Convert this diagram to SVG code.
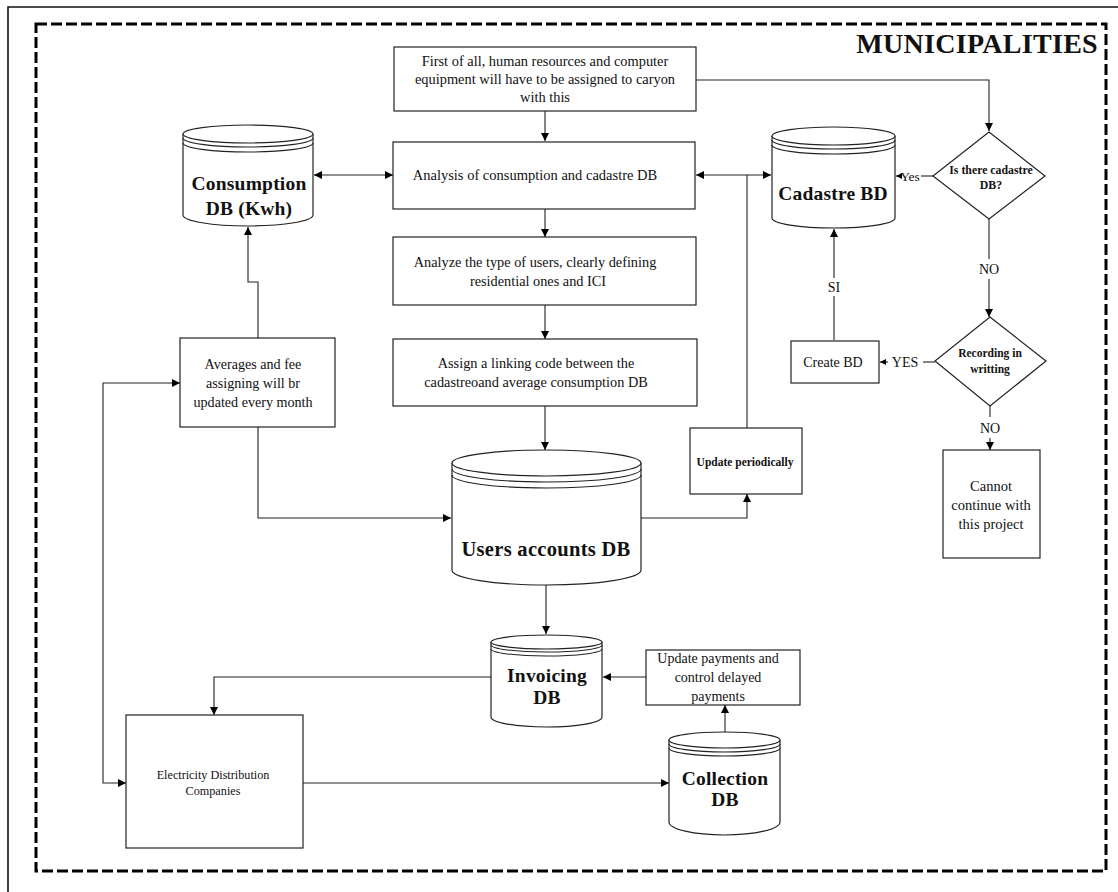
<svg xmlns="http://www.w3.org/2000/svg" width="1118" height="892" viewBox="0 0 1118 892">
<defs>
<marker id="ah" viewBox="0 0 10 10" refX="10" refY="5" markerWidth="9" markerHeight="8" markerUnits="userSpaceOnUse" orient="auto-start-reverse">
<path d="M0,0 L10,5 L0,10 Z" fill="#000"/>
</marker>
<marker id="ahs" viewBox="0 0 10 10" refX="10" refY="5" markerWidth="6" markerHeight="6" markerUnits="userSpaceOnUse" orient="auto-start-reverse">
<path d="M0,0 L10,5 L0,10 Z" fill="#000"/>
</marker>
<style>
.box{fill:#fff;stroke:#222;stroke-width:1.2}
.cyl{fill:#fff;stroke:#222;stroke-width:1.2}
.ln{fill:none;stroke:#222;stroke-width:1.1}
.cn{fill:none;stroke:#222;stroke-width:1.1}
.t{font-family:"Liberation Serif","Times New Roman",serif;fill:#111;text-anchor:middle}
.b{font-weight:bold}
.big{font-family:"Liberation Serif","Times New Roman",serif;font-weight:bold;fill:#111;text-anchor:middle;font-size:19.5px;letter-spacing:0.2px}
</style>
</defs>
<rect width="1118" height="892" fill="#fff"/>
<g id="frame">
<path d="M8,892 L8,7 L1118,7" fill="none" stroke="#111" stroke-width="1.6"/>
<rect x="36" y="24" width="1070" height="847" fill="none" stroke="#000" stroke-width="3" stroke-dasharray="11,4"/>
<text x="1098" y="53" class="t b" style="text-anchor:end;font-size:28px;letter-spacing:0.3px">MUNICIPALITIES</text>
</g>
<g id="connectors">
<path class="cn" d="M696,80 L989,80 L989,131" marker-end="url(#ah)"/>
<path class="cn" d="M545,111 L545,141" marker-end="url(#ah)"/>
<path class="cn" d="M314,175 L393,175" marker-start="url(#ah)" marker-end="url(#ah)"/>
<path class="cn" d="M545,209 L545,237" marker-end="url(#ah)"/>
<path class="cn" d="M545,305 L545,339" marker-end="url(#ah)"/>
<path class="cn" d="M545,406 L545,450" marker-end="url(#ah)"/>
<path class="cn" d="M696,175 L771,175" marker-start="url(#ah)" marker-end="url(#ah)"/>
<path class="cn" d="M747,428 L747,175"/>
<path class="cn" d="M641,518 L747,518 L747,494" marker-end="url(#ah)"/>
<path class="cn" d="M258,338 L258,282 L248,282 L248,227" marker-end="url(#ah)"/>
<path class="cn" d="M258,427 L258,518 L451,518" marker-end="url(#ah)"/>
<path class="cn" d="M180,383 L103,383 L103,783 L126,783" marker-start="url(#ah)" marker-end="url(#ah)"/>
<path class="cn" d="M546,585 L546,634" marker-end="url(#ah)"/>
<path class="cn" d="M491,677 L214,677 L214,715" marker-end="url(#ah)"/>
<path class="cn" d="M646,677 L603,677" marker-end="url(#ah)"/>
<path class="cn" d="M725,732 L725,705" marker-end="url(#ah)"/>
<path class="cn" d="M303,783 L669,783" marker-end="url(#ah)"/>
<path class="cn" d="M933,176 L921,176"/>
<path class="cn" d="M902,176 L896,176" marker-end="url(#ahs)"/>
<text x="910" y="181" class="t" style="font-size:13.5px">Yes</text>
<path class="cn" d="M989,219 L989,259"/>
<path class="cn" d="M989,279 L989,317" marker-end="url(#ah)"/>
<text x="989" y="274" class="t" style="font-size:14px">NO</text>
<path class="cn" d="M834,340 L834,296"/>
<path class="cn" d="M834,278 L834,229" marker-end="url(#ah)"/>
<text x="834" y="292" class="t" style="font-size:14px">SI</text>
<path class="cn" d="M935,362 L923,362"/>
<path class="cn" d="M888,362 L880,362" marker-end="url(#ahs)"/>
<text x="905" y="367" class="t" style="font-size:14px">YES</text>
<path class="cn" d="M990,406 L990,417"/>
<path class="cn" d="M990,438 L990,450" marker-end="url(#ah)"/>
<text x="990" y="433" class="t" style="font-size:14px">NO</text>
</g>
<g id="n-top">
<rect class="box" x="394" y="47" width="302" height="64"/>
<text class="t" style="font-size:14.4px"><tspan x="545" y="66">First of all, human resources and computer</tspan><tspan x="545" y="84">equipment will have to be assigned to caryon</tspan><tspan x="545" y="102">with this</tspan></text>
</g>
<g id="n-analysis">
<rect class="box" x="393" y="142" width="302" height="67"/>
<text x="535" y="180" class="t" style="font-size:14.5px">Analysis of consumption and cadastre DB</text>
</g>
<g id="n-analyze">
<rect class="box" x="393" y="237" width="303" height="68"/>
<text class="t" style="font-size:14.3px"><tspan x="535" y="267">Analyze the type of users, clearly defining</tspan><tspan x="538" y="286">residential ones and ICI</tspan></text>
</g>
<g id="n-assign">
<rect class="box" x="393" y="339" width="304" height="67"/>
<text class="t" style="font-size:14.3px"><tspan x="536" y="368">Assign a linking code between the</tspan><tspan x="536" y="387">cadastreoand average consumption DB</tspan></text>
</g>
<g id="n-consumption">
<path class="cyl" d="M183,134 L183,215 A65,11 0 0 0 313,215 L313,134"/>
<ellipse class="cyl" cx="248" cy="134" rx="65" ry="9"/>
<path class="ln" d="M183,138 A65,9 0 0 0 313,138 M183,143 A65,9 0 0 0 313,143"/>
<text x="249" y="190" class="big">Consumption</text>
<text x="249" y="215" class="big">DB (Kwh)</text>
</g>
<g id="n-cadastre">
<path class="cyl" d="M772,136 L772,218 A61.5,10 0 0 0 895,218 L895,136"/>
<ellipse class="cyl" cx="833.5" cy="136" rx="61.5" ry="9"/>
<path class="ln" d="M772,140 A61.5,9 0 0 0 895,140 M772,145 A61.5,9 0 0 0 895,145"/>
<text x="833" y="200" class="big">Cadastre BD</text>
</g>
<g id="n-isthere">
<path class="box" d="M989,132 L1045,176 L989,219 L933,176 Z"/>
<text class="t b" style="font-size:11.8px"><tspan x="991" y="174">Is there cadastre</tspan><tspan x="991" y="189">DB?</tspan></text>
</g>
<g id="n-recording">
<path class="box" d="M990,317 L1046,361 L990,406 L935,361 Z"/>
<text class="t b" style="font-size:11.5px"><tspan x="990" y="357">Recording in</tspan><tspan x="990" y="373">writting</tspan></text>
</g>
<g id="n-createbd">
<rect class="box" x="791" y="341" width="88" height="42"/>
<text x="833" y="367" class="t" style="font-size:14px">Create BD</text>
</g>
<g id="n-cannot">
<rect class="box" x="943" y="450" width="97" height="108"/>
<text class="t" style="font-size:14.5px"><tspan x="991" y="491">Cannot</tspan><tspan x="991" y="510">continue with</tspan><tspan x="991" y="529">this project</tspan></text>
</g>
<g id="n-averages">
<rect class="box" x="180" y="338" width="155" height="89"/>
<text class="t" style="font-size:14.1px"><tspan x="253" y="369">Averages and fee</tspan><tspan x="253" y="388">assigning will br</tspan><tspan x="253" y="407">updated every month</tspan></text>
</g>
<g id="n-update-periodically">
<rect class="box" x="690" y="428" width="112" height="66"/>
<text x="745" y="466" class="t b" style="font-size:11.5px">Update periodically</text>
</g>
<g id="n-users">
<path class="cyl" d="M452,463 L452,570 A94.5,15 0 0 0 641,570 L641,463"/>
<ellipse class="cyl" cx="546.5" cy="463" rx="94.5" ry="13"/>
<path class="ln" d="M452,469 A94.5,13 0 0 0 641,469 M452,475 A94.5,13 0 0 0 641,475"/>
<text x="546" y="556" class="big" style="font-size:20.5px;letter-spacing:0.3px">Users accounts DB</text>
</g>
<g id="n-invoicing">
<path class="cyl" d="M491,642 L491,717 A55.5,10 0 0 0 602,717 L602,642"/>
<ellipse class="cyl" cx="546.5" cy="642" rx="55.5" ry="7"/>
<path class="ln" d="M491,645 A55.5,7 0 0 0 602,645 M491,649 A55.5,7 0 0 0 602,649"/>
<text x="547" y="682" class="big">Invoicing</text>
<text x="547" y="704" class="big">DB</text>
</g>
<g id="n-update-payments">
<rect class="box" x="646" y="650" width="154" height="55"/>
<text class="t" style="font-size:14px"><tspan x="718" y="663">Update payments and</tspan><tspan x="718" y="682">control delayed</tspan><tspan x="718" y="701">payments</tspan></text>
</g>
<g id="n-collection">
<path class="cyl" d="M669,740 L669,822 A55.5,13 0 0 0 780,822 L780,740"/>
<ellipse class="cyl" cx="724.5" cy="740" rx="55.5" ry="8"/>
<path class="ln" d="M669,744 A55.5,8 0 0 0 780,744 M669,748 A55.5,8 0 0 0 780,748"/>
<text x="725" y="785" class="big">Collection</text>
<text x="725" y="806" class="big">DB</text>
</g>
<g id="n-electricity">
<rect class="box" x="126" y="715" width="177" height="133"/>
<text class="t" style="font-size:12.2px"><tspan x="213" y="779">Electricity Distribution</tspan><tspan x="213" y="795">Companies</tspan></text>
</g>
</svg>
